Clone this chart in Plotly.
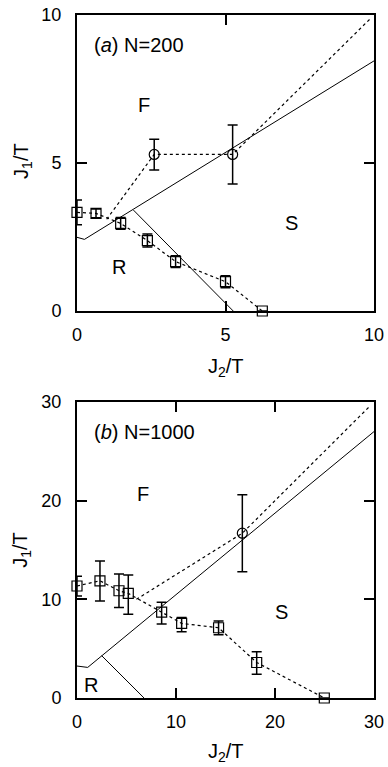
import plotly.graph_objects as go

# ---- Panel (a) N=200 ----
a_sq_x = [0, 0.64, 1.47, 2.37, 3.32, 5.0, 6.24]
a_sq_y = [3.33, 3.3, 2.96, 2.38, 1.67, 0.99, 0]
a_sq_err = [0.42, 0.15, 0.2, 0.22, 0.2, 0.2, 0]

a_ci_line_x = [1.0, 2.6, 5.24, 9.85]
a_ci_line_y = [3.1, 5.29, 5.29, 9.85]
a_ci_x = [2.6, 5.24]
a_ci_y = [5.29, 5.29]
a_ci_err_plus = [0.51, 0.99]
a_ci_err_minus = [0.53, 1.0]

a_b1_x = [0, 0.25, 10]
a_b1_y = [2.49, 2.42, 8.45]
a_b2_x = [1.9, 5.26]
a_b2_y = [3.41, 0]

# ---- Panel (b) N=1000 ----
b_sq_x = [0, 2.32, 4.24, 5.18, 8.55, 10.57, 14.3, 18.15, 24.98]
b_sq_y = [11.35, 11.88, 10.87, 10.6, 8.7, 7.56, 7.12, 3.6, 0]
b_sq_err_plus = [1.0, 2.0, 1.7, 1.86, 1.0, 0.6, 0.68, 1.1, 0]
b_sq_err_minus = [1.0, 2.05, 1.7, 2.1, 1.2, 0.85, 0.72, 1.2, 0]

b_ci_line_x = [6.0, 16.7, 29.6]
b_ci_line_y = [10.0, 16.7, 29.6]
b_ci_x = [16.7]
b_ci_y = [16.7]
b_ci_err_plus = [3.9]
b_ci_err_minus = [3.9]

b_b1_x = [0, 1.08, 30]
b_b1_y = [3.24, 3.1, 27.0]
b_b2_x = [2.49, 6.77]
b_b2_y = [4.29, 0]

a_ticks = [0, 5, 10]
b_ticks = [0, 10, 20, 30]

x_title = "J<sub>2</sub>/T"
y_title = "J<sub>1</sub>/T"

FONT = "Liberation Sans, Arial, Helvetica, sans-serif"
DOT = "3px,3px"

fig = go.Figure()

def add_panel(xa, ya, sqx, sqy, sqp, sqm, clx, cly, cx, cy, cp, cm, b1x, b1y, b2x, b2y):
    kw = dict(xaxis=xa, yaxis=ya, showlegend=False, hoverinfo="skip")
    fig.add_trace(go.Scatter(x=b1x, y=b1y, mode="lines",
                             line=dict(color="black", width=1), **kw))
    fig.add_trace(go.Scatter(x=b2x, y=b2y, mode="lines",
                             line=dict(color="black", width=1), **kw))
    fig.add_trace(go.Scatter(x=clx, y=cly, mode="lines",
                             line=dict(color="black", width=1.2, dash=DOT), **kw))
    fig.add_trace(go.Scatter(x=sqx, y=sqy, mode="lines+markers",
                             line=dict(color="black", width=1.2, dash=DOT),
                             marker=dict(symbol="square-open", size=10, color="black",
                                         line=dict(width=1.2)),
                             error_y=dict(type="data", array=sqp, arrayminus=sqm,
                                          color="black", thickness=1.5, width=5),
                             cliponaxis=False, **kw))
    fig.add_trace(go.Scatter(x=cx, y=cy, mode="markers",
                             marker=dict(symbol="circle-open", size=10, color="black",
                                         line=dict(width=1.2)),
                             error_y=dict(type="data", array=cp, arrayminus=cm,
                                          color="black", thickness=1.5, width=5),
                             **kw))

add_panel("x", "y", a_sq_x, a_sq_y, a_sq_err, a_sq_err,
          a_ci_line_x, a_ci_line_y, a_ci_x, a_ci_y, a_ci_err_plus, a_ci_err_minus,
          a_b1_x, a_b1_y, a_b2_x, a_b2_y)
add_panel("x2", "y2", b_sq_x, b_sq_y, b_sq_err_plus, b_sq_err_minus,
          b_ci_line_x, b_ci_line_y, b_ci_x, b_ci_y, b_ci_err_plus, b_ci_err_minus,
          b_b1_x, b_b1_y, b_b2_x, b_b2_y)

axis_common = dict(showline=True, mirror="ticks", linecolor="black", linewidth=2,
                   ticks="inside", ticklen=10, tickwidth=1.5, tickcolor="black",
                   showgrid=False, zeroline=False, automargin=False,
                   ticklabeloverflow="allow",
                   tickfont=dict(family=FONT, size=18, color="black"))

fig.update_layout(
    width=388, height=767,
    margin=dict(l=77, r=14, t=15, b=69),
    paper_bgcolor="white", plot_bgcolor="white",
    font=dict(family=FONT, size=18, color="black"),
    xaxis=dict(domain=[0, 1], anchor="y", range=[0, 10], tickvals=a_ticks,
               ticklabelstandoff=6, **axis_common),
    yaxis=dict(domain=[0.5666, 1.0], anchor="x", range=[0, 10], tickvals=a_ticks,
               ticklabelstandoff=10, **axis_common),
    xaxis2=dict(domain=[0, 1], anchor="y2", range=[0, 30], tickvals=b_ticks,
                ticklabelstandoff=6, **axis_common),
    yaxis2=dict(domain=[0, 0.4334], anchor="x2", range=[0, 30], tickvals=b_ticks,
                ticklabelstandoff=10, **axis_common),
)

title_font = dict(family=FONT, size=20, color="black")
# axis titles (paper coords)
for xv, yv, txt, ang in [(0.5, 0.4846, x_title, 0), (0.5, -0.0805, x_title, 0),
                         (-0.186, 0.786, y_title, -90), (-0.186, 0.2167, y_title, -90)]:
    fig.add_annotation(xref="paper", yref="paper", x=xv, y=yv, text=txt, textangle=ang,
                       showarrow=False, xanchor="center", yanchor="middle", font=title_font)

ann_font = dict(family=FONT, size=20, color="black")
anns = [
    ("x", "y", 0.5, 9.0, "(<i>a</i>) N=200", "left"),
    ("x", "y", 2.26, 6.96, "F", "center"),
    ("x", "y", 7.23, 2.96, "S", "center"),
    ("x", "y", 1.43, 1.48, "R", "center"),
    ("x2", "y2", 1.5, 27.0, "(<i>b</i>) N=1000", "left"),
    ("x2", "y2", 6.7, 20.7, "F", "center"),
    ("x2", "y2", 20.7, 8.75, "S", "center"),
    ("x2", "y2", 1.38, 1.3, "R", "center"),
]
for xr, yr, xv, yv, txt, al in anns:
    fig.add_annotation(xref=xr, yref=yr, x=xv, y=yv, text=txt, showarrow=False,
                       xanchor=al, yanchor="middle", font=ann_font)

fig.write_html("out.html",
               config={"displayModeBar": False},
               post_script="document.body.style.margin='0';"
                           "document.body.style.overflow='hidden';")
